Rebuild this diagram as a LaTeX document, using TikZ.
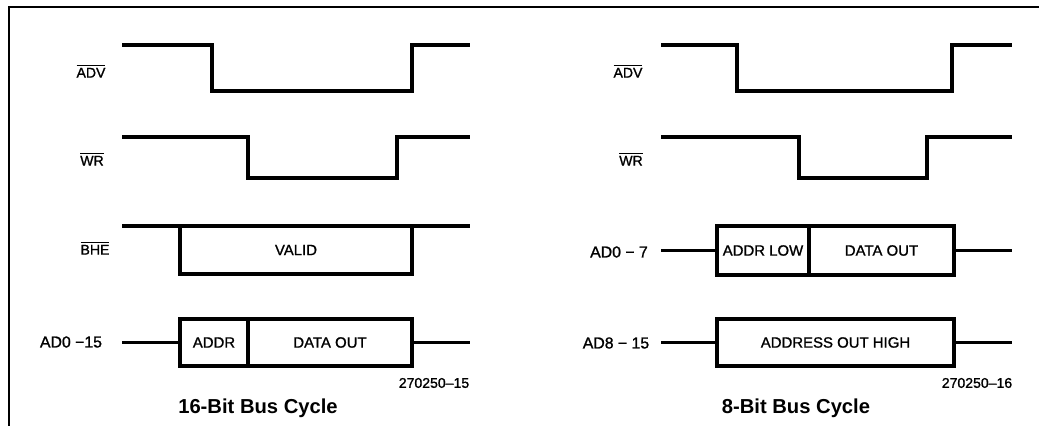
\documentclass[tikz,border=0pt]{standalone}
\usepackage{fontspec}
\setmainfont{Liberation Sans}
\newfontfamily\tdfont{Liberation Sans}[FakeBold=1.2]
\usetikzlibrary{positioning}

\tikzset{
	wave/.style={line width=2pt},
	busseg/.style={draw, line width=2pt, inner sep=0pt, outer sep=0pt, minimum height=0.94cm, font=\tdfont\fontsize{8.5}{10}\selectfont},
	signame/.style={inner sep=0pt, font=\tdfont\fontsize{9}{10}\selectfont},
	barname/.style={inner sep=0pt, font=\tdfont\fontsize{8}{9}\selectfont},
	figno/.style={inner sep=0pt, font=\tdfont\fontsize{8}{10}\selectfont},
	cyclecap/.style={inner sep=0pt, font=\bfseries\fontsize{11.5}{13}\selectfont}
}

\begin{document}
\begin{tikzpicture}[x=0.02cm, y=-0.02cm]
	\useasboundingbox (0,0) rectangle (1039,426);
	% frame
	\draw[line width=1.2pt] (9,426) -- (9,7) -- (1039,7);

	% 16-bit bus cycle
	\node[barname] (adv16) at (91,71) {$\overline{\mbox{ADV}}$};
	\draw[wave] (122,45) -- (212,45) -- (212,91) -- (412,91) -- (412,45) -- (470,45);
	\node[barname] (wr16) at (92,159) {$\overline{\mbox{WR}}$};
	\draw[wave] (122,137) -- (248,137) -- (248,178) -- (397,178) -- (397,137) -- (470,137);
	\node[barname] (bhe16) at (95,248) {$\overline{\mbox{BHE}}$};
	\draw[wave] (122,226) -- (470,226);
	\node[busseg, minimum width=4.64cm, minimum height=0.96cm] (valid) at (296,250) {VALID};
	\node[signame] (ad16) at (71,342) {AD0 −15};
	\node[busseg, minimum width=1.36cm] (addr16) at (214,342.5) {ADDR};
	\node[busseg, minimum width=3.28cm, right=0pt of addr16] (data16) {DATA OUT};
	\coordinate (ad16in) at (122,342.5);
	\coordinate (ad16out) at (470,342.5);
	\draw[wave] (ad16in) -- (addr16.west);
	\draw[wave] (data16.east) -- (ad16out);
	\node[figno] (fig15) at (434,383) {270250–15};
	\node[cyclecap] (cap16) at (258,408) {16-Bit Bus Cycle};

	% 8-bit bus cycle
	\node[barname] (adv8) at (628,71) {$\overline{\mbox{ADV}}$};
	\draw[wave] (661,45) -- (737,45) -- (737,91) -- (952,91) -- (952,45) -- (1012,45);
	\node[barname] (wr8) at (631,159) {$\overline{\mbox{WR}}$};
	\draw[wave] (661,137) -- (799,137) -- (799,178) -- (927,178) -- (927,137) -- (1012,137);
	\node[signame] (adlo) at (619,252) {AD0 − 7};
	\node[busseg, minimum width=1.84cm, minimum height=0.98cm] (addrlo) at (763,250.5) {ADDR LOW};
	\node[busseg, minimum width=2.9cm, minimum height=0.98cm, right=0pt of addrlo] (data8) {DATA OUT};
	\coordinate (adloin) at (661,250.5);
	\coordinate (adloout) at (1012,250.5);
	\draw[wave] (adloin) -- (addrlo.west);
	\draw[wave] (data8.east) -- (adloout);
	\node[signame] (adhi) at (616,343) {AD8 − 15};
	\node[busseg, minimum width=4.74cm] (addrhi) at (835.5,342.5) {ADDRESS OUT HIGH};
	\coordinate (adhiin) at (661,342.5);
	\coordinate (adhiout) at (1012,342.5);
	\draw[wave] (adhiin) -- (addrhi.west);
	\draw[wave] (addrhi.east) -- (adhiout);
	\node[figno] (fig16) at (977,383) {270250–16};
	\node[cyclecap] (cap8) at (796,408) {8-Bit Bus Cycle};
\end{tikzpicture}
\end{document}
